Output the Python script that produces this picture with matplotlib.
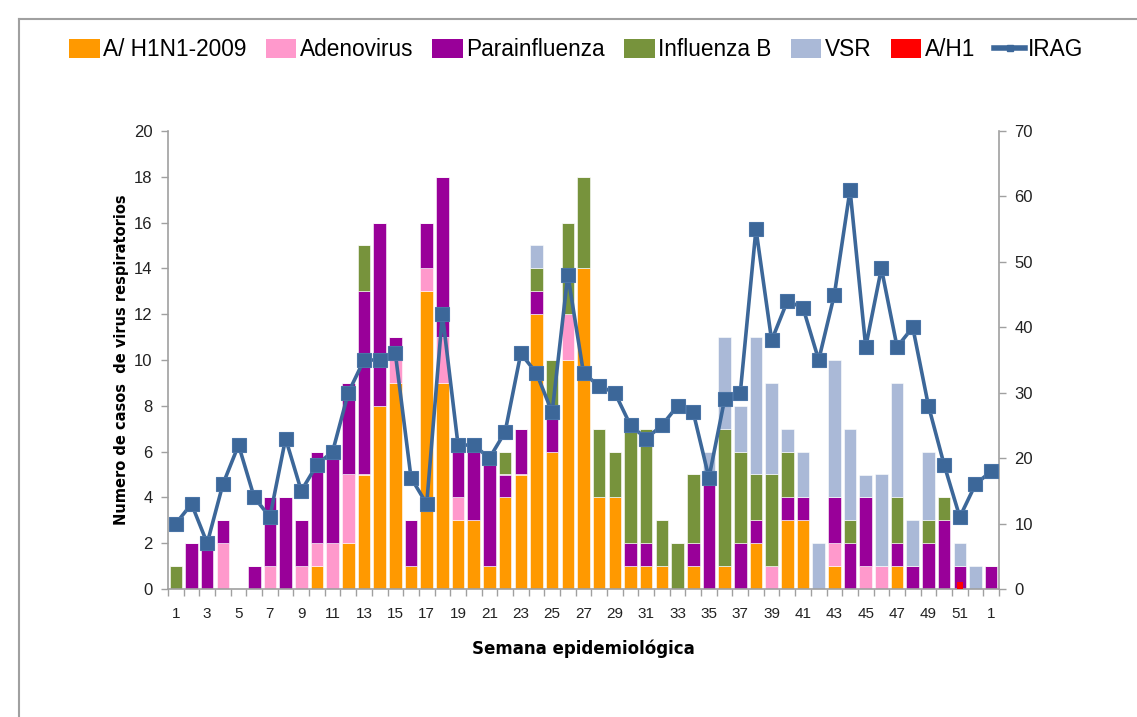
import numpy as np
import matplotlib
matplotlib.use("Agg")
import matplotlib.pyplot as plt
from matplotlib.patches import Patch
from matplotlib.lines import Line2D

plt.rcParams['font.family'] = ['Liberation Sans', 'DejaVu Sans']

# weeks (last one is week 1 of next year)
weeks = list(range(1, 53)) + [1]

h1n1 = [0, 0, 0, 0, 0, 0, 0, 0, 0, 1, 0, 2, 5, 8, 9, 1, 13, 9, 3, 3, 1, 4, 5, 12, 6, 10, 14,
        4, 4, 1, 1, 1, 0, 1, 0, 1, 0, 2, 0, 3, 3, 0, 1, 0, 0, 0, 1, 0, 0, 0, 0, 0, 0]
adeno = [0, 0, 0, 2, 0, 0, 1, 0, 1, 1, 2, 3, 0, 0, 1, 0, 1, 2, 1, 0, 0, 0, 0, 0, 0, 2, 0,
         0, 0, 0, 0, 0, 0, 0, 0, 0, 0, 0, 1, 0, 0, 0, 1, 0, 1, 1, 0, 0, 0, 0, 0, 0, 0]
parainf = [0, 2, 2, 1, 0, 1, 3, 4, 2, 4, 4, 4, 8, 8, 1, 2, 2, 7, 2, 3, 5, 1, 2, 1, 2, 0, 0,
           0, 0, 1, 1, 0, 0, 1, 5, 0, 2, 1, 0, 1, 1, 0, 2, 2, 3, 0, 1, 1, 2, 3, 1, 0, 1]
flu_b = [1, 0, 0, 0, 0, 0, 0, 0, 0, 0, 0, 0, 2, 0, 0, 0, 0, 0, 0, 0, 0, 1, 0, 1, 2, 4, 4,
         3, 2, 5, 5, 2, 2, 3, 0, 6, 4, 2, 4, 2, 0, 0, 0, 1, 0, 0, 2, 0, 1, 1, 0, 0, 0]
vsr = [0, 0, 0, 0, 0, 0, 0, 0, 0, 0, 0, 0, 0, 0, 0, 0, 0, 0, 0, 0, 0, 0, 0, 1, 0, 0, 0,
       0, 0, 0, 0, 0, 0, 0, 1, 4, 2, 6, 4, 1, 2, 2, 6, 4, 1, 4, 5, 2, 3, 0, 1, 1, 0]
ah1 = [0] * 50 + [1, 0, 0]
irag = [10, 13, 7, 16, 22, 14, 11, 23, 15, 19, 21, 30, 35, 35, 36, 17, 13, 42, 22, 22, 20,
        24, 36, 33, 27, 48, 33, 31, 30, 25, 23, 25, 28, 27, 17, 29, 30, 55, 38, 44, 43, 35,
        45, 61, 37, 49, 37, 40, 28, 19, 11, 16, 18]

names = ['A/ H1N1-2009', 'Adenovirus', 'Parainfluenza', 'Influenza B', 'VSR', 'A/H1', 'IRAG']
colors = ['#FF9900', '#FF99CC', '#990099', '#77933C', '#AAB9D7', '#FF0000', '#3C6799']
grey = '#A0A0A0'

x = np.arange(len(weeks))

fig = plt.figure(figsize=(11.37, 7.17), dpi=100)
ax = fig.add_axes([168 / 1137, 1 - 589 / 717, 831 / 1137, 458 / 717])

bottom = np.zeros(len(x))
for vals, c in zip([h1n1, adeno, parainf, flu_b, vsr], colors[:5]):
    vals = np.array(vals, dtype=float)
    ax.bar(x, vals, width=0.8, bottom=bottom, color=c, edgecolor='white', linewidth=0.4, zorder=2)
    bottom += vals

# A/H1 shown as small red block at the base
ah1 = np.array(ah1)
sel = ah1 > 0
ax.bar(x[sel], ah1[sel] * 0.3, width=0.35, color=colors[5], zorder=3)

ax.set_ylim(0, 20)
ax.set_xlim(-0.5, len(x) - 0.5)
ax.set_yticks(np.arange(0, 21, 2))
ax.set_xticks(x[::2])
ax.set_xticklabels([str(w) for w in weeks[::2]])
ax.set_xticks(np.arange(-0.5, len(x), 1), minor=True)
ax.tick_params(axis='x', which='major', length=0, pad=13, labelsize=11, colors='#222222')
ax.tick_params(axis='x', which='minor', length=5, color=grey, width=1)
ax.tick_params(axis='y', length=5, color=grey, width=1, labelsize=12, colors='#222222', pad=6)
for s in ['top', 'right']:
    ax.spines[s].set_visible(False)
for s in ['left', 'bottom']:
    ax.spines[s].set_color(grey)
    ax.spines[s].set_linewidth(1.2)
ax.set_ylabel('Numero de casos  de virus respiratorios', fontsize=10.5, fontweight='bold',
              family=['DejaVu Sans'], labelpad=4)
ax.set_xlabel('Semana epidemiológica', fontsize=12, fontweight='bold',
              family=['DejaVu Sans'], labelpad=13)

ax2 = ax.twinx()
ax2.plot(x, irag, color=colors[6], lw=2.6, marker='s', ms=9.5, mec='#4A74A6', mew=0.8, zorder=4)
ax2.set_ylim(0, 70)
ax2.set_yticks(np.arange(0, 71, 10))
ax2.tick_params(axis='y', length=5, color=grey, width=1, labelsize=12, colors='#222222', pad=6)
for s in ['top', 'left', 'bottom']:
    ax2.spines[s].set_visible(False)
ax2.spines['right'].set_color(grey)
ax2.spines['right'].set_linewidth(1.2)

handles = [Patch(facecolor=c, edgecolor='none') for c in colors[:6]]
handles.append(Line2D([], [], color=colors[6], lw=4, marker='s', ms=5))
fig.legend(handles, names, loc='center left', bbox_to_anchor=(60 / 1137, 1 - 50 / 717),
           ncol=7, frameon=False, fontsize=16.3, handlelength=1.35, handleheight=0.87,
           handletextpad=0.15, columnspacing=0.85, borderaxespad=0)

# chart area border
x0, y0 = 19 / 1137, 1 - 19 / 717
fig.add_artist(Line2D([x0, x0], [0, y0], color=grey, lw=1.5))
fig.add_artist(Line2D([x0, 1], [y0, y0], color=grey, lw=1.5))

fig.savefig('out.png', dpi=100)
